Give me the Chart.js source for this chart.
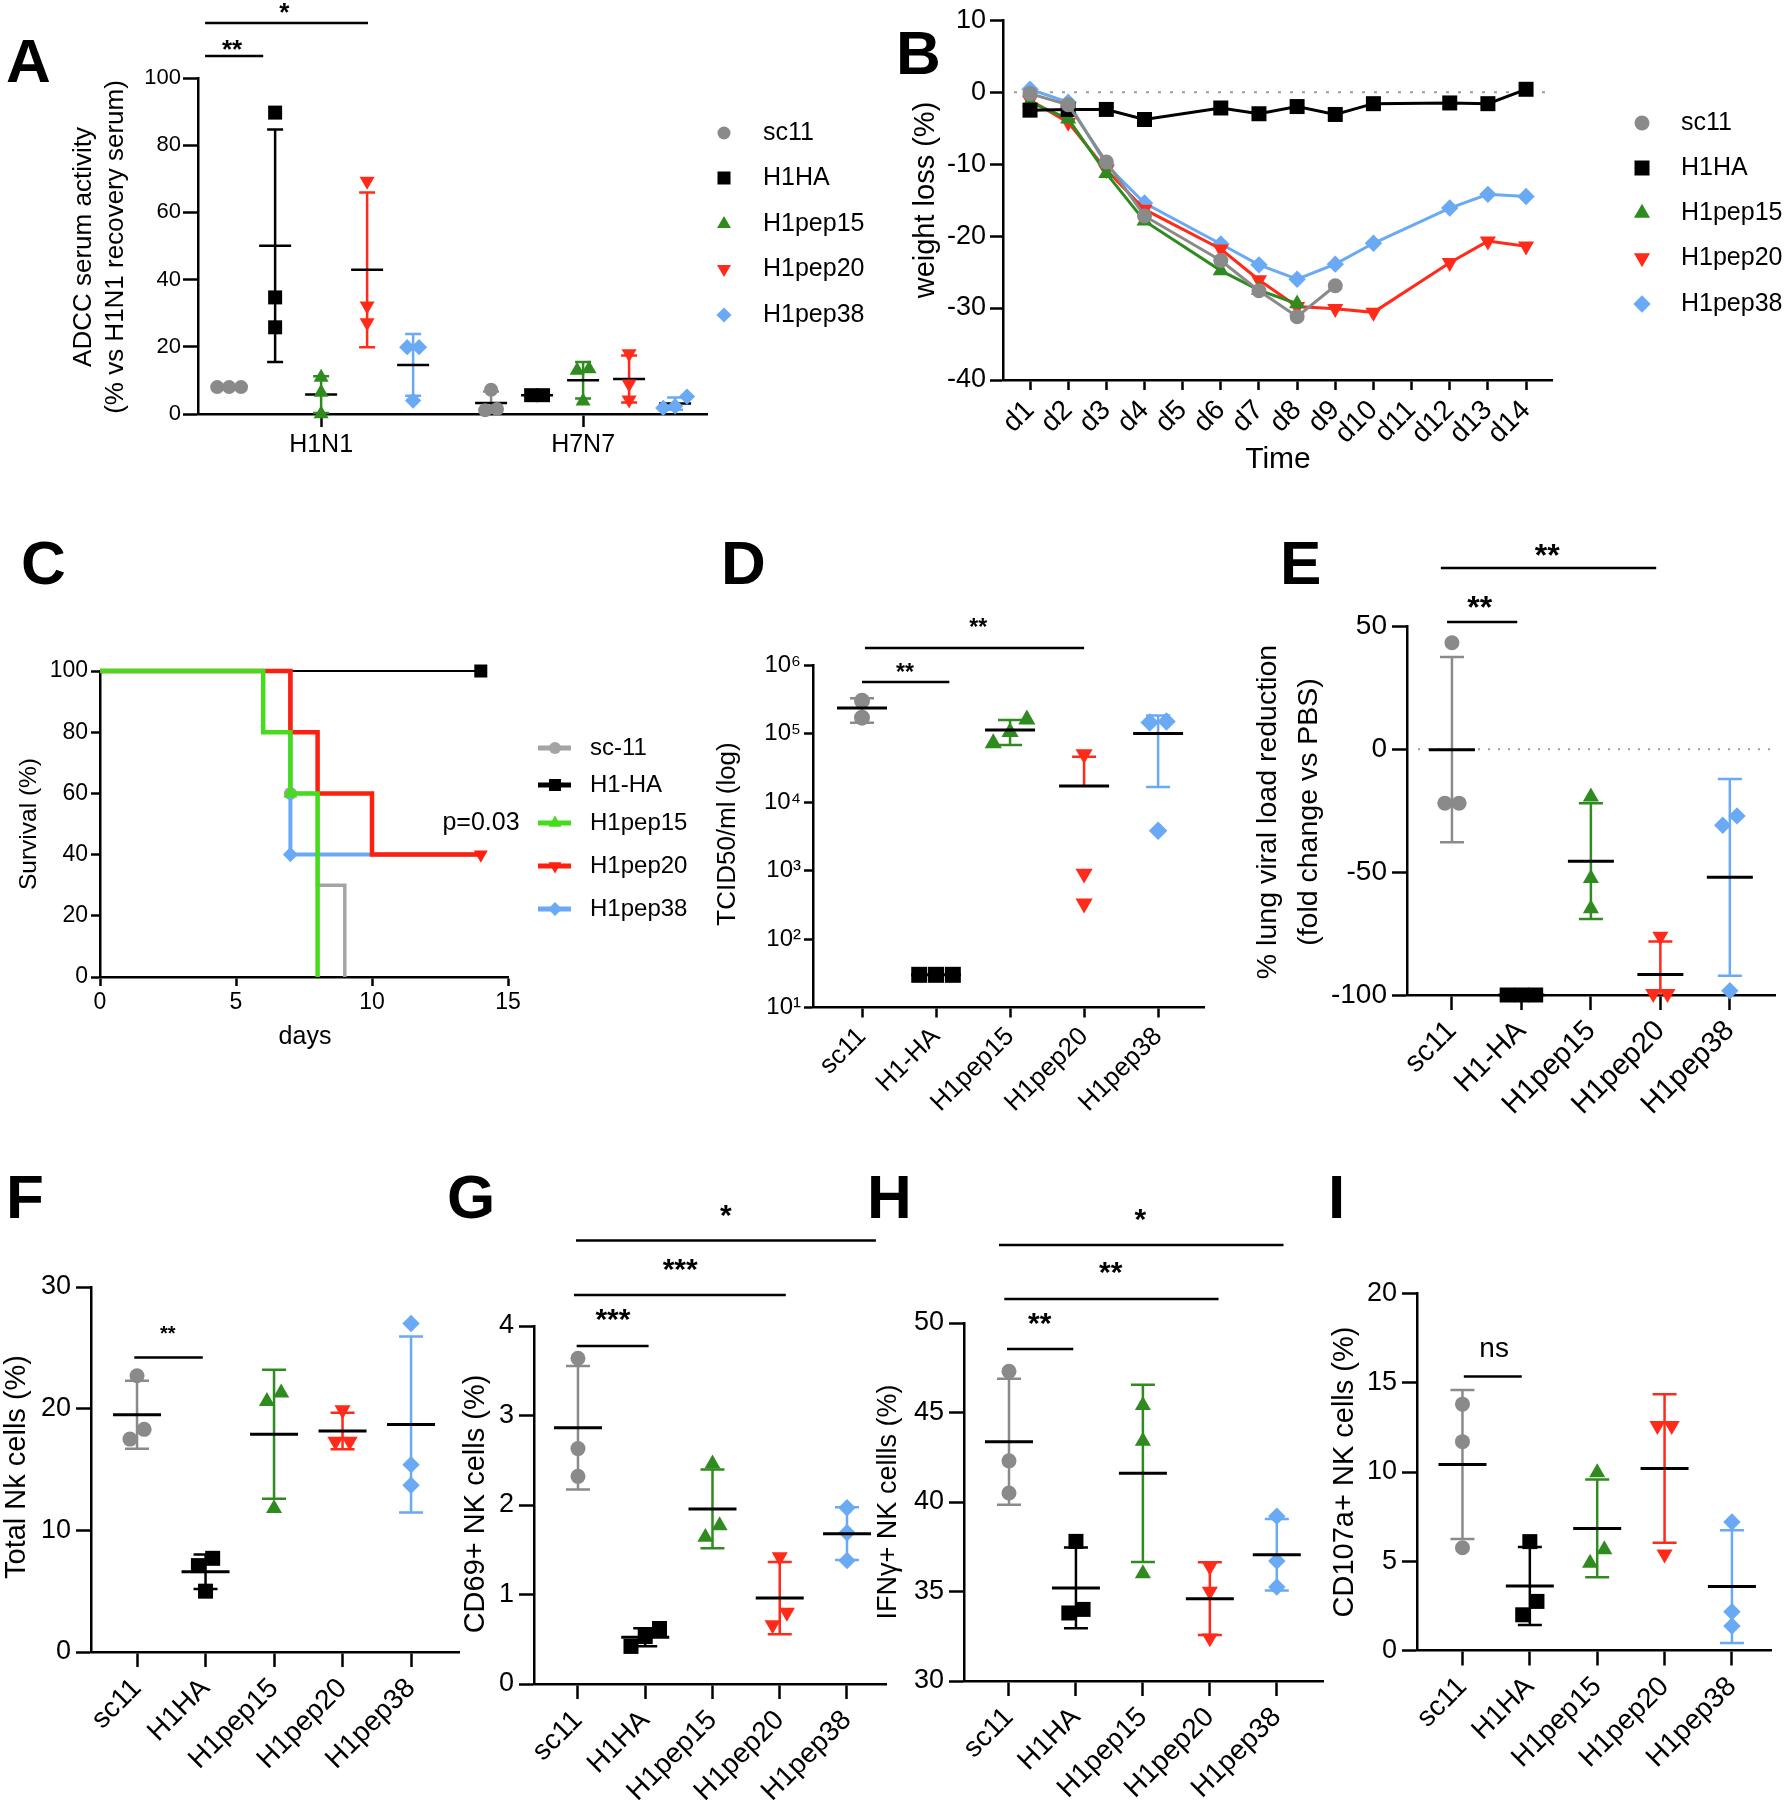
<!DOCTYPE html>
<html>
<head>
<meta charset="utf-8">
<title>Figure</title>
<script src="https://cdn.jsdelivr.net/npm/chart.js@4.4.1/dist/chart.umd.min.js"></script>
<style>
html,body{margin:0;padding:0;background:#ffffff;}
#page{position:relative;width:1786px;height:1800px;overflow:hidden;background:#ffffff;}
#page canvas{position:absolute;}
</style>
</head>
<body>
<div id="page"></div>
<script>
// ======================= DATA =======================
const groupNames     = ['sc11', 'H1HA', 'H1pep15', 'H1pep20', 'H1pep38'];
const groupNamesDash = ['sc11', 'H1-HA', 'H1pep15', 'H1pep20', 'H1pep38'];
const survivalNames  = ['sc-11', 'H1-HA', 'H1pep15', 'H1pep20', 'H1pep38'];

// A: ADCC serum activity; each series: [H1N1 values], [H7N7 values]
const aViruses = ['H1N1', 'H7N7'];
const aYTicks  = [0, 20, 40, 60, 80, 100];
const aSc11    = [[8, 8, 8], [7.2, 1.1, 1.5]];
const aH1HA    = [[89.7, 34.7, 25.8], [5.6, 5.6]];
const aH1pep15 = [[10.9, 6.4, 0], [13.4, 13.0, 3.8]];
const aH1pep20 = [[69.3, 32.2, 27.2], [18.0, 9.0, 4.2]];
const aH1pep38 = [[19.9, 19.9, 4.0], [5.2, 1.8, 2.3]];

// B: weight loss (%) per day (null = no value)
const bDays    = ['d1','d2','d3','d4','d5','d6','d7','d8','d9','d10','d11','d12','d13','d14'];
const bYTicks  = [-40, -30, -20, -10, 0, 10];
const bSc11    = [-0.2, -1.75, -9.7, -17.2, null, -23.4, -27.6, -31.2, -26.9, null, null, null, null, null];
const bH1HA    = [-2.5, -2.4, -2.4, -3.8, null, -2.2, -3.0, -2.0, -3.1, -1.6, null, -1.5, -1.6, 0.4];
const bH1pep15 = [-1.4, -3.7, -11.3, -17.9, null, -24.8, -27.5, -29.4, null, null, null, null, null, null];
const bH1pep20 = [-1.1, -4.2, -10.8, -16.3, null, -21.8, -26.1, -29.8, -30.1, -30.6, null, -23.7, -20.7, -21.4];
const bH1pep38 = [0.4, -1.4, -10.1, -15.4, null, -21.1, -24.0, -26.0, -23.9, -21.0, null, -16.1, -14.2, -14.5];

// C: survival (%) – event days and survival after the event; marker days
const cXTicks = [0, 5, 10, 15];
const cYTicks = [0, 20, 40, 60, 80, 100];
const cSc11Days  = [0, 7, 8, 9];        const cSc11Surv  = [100, 60, 30, 0];      const cSc11Marks  = [7];
const cH1HADays  = [0, 14];             const cH1HASurv  = [100, 100];            const cH1HAMarks  = [14];
const cPep15Days = [0, 6, 7, 8];        const cPep15Surv = [100, 80, 60, 0];      const cPep15Marks = [7];
const cPep20Days = [0, 7, 8, 10, 14];   const cPep20Surv = [100, 80, 60, 40, 40]; const cPep20Marks = [14];
const cPep38Days = [0, 7, 14];          const cPep38Surv = [100, 40, 40];         const cPep38Marks = [7];

// D: TCID50/ml
const dYTicks  = [1e1, 1e2, 1e3, 1e4, 1e5, 1e6];
const dYLabels = ['10\u00B9', '10\u00B2', '10\u00B3', '10\u2074', '10\u2075', '10\u2076'];
const dSc11    = [3.0e5, 1.7e5];
const dH1HA    = [30, 30, 30];
const dH1pep15 = [1.6e5, 0.72e5, 1.05e5];
const dH1pep20 = [5.0e4, 9.0e2, 3.3e2];
const dH1pep38 = [1.45e5, 1.5e5, 3.8e3];

// E: % lung viral load reduction
const eYTicks  = [-100, -50, 0, 50];
const eSc11    = [43.4, -21.9, -21.9];
const eH1HA    = [-100, -100, -100];
const eH1pep15 = [-19.3, -52.5, -64.8];
const eH1pep20 = [-76.1, -99.5, -99.5];
const eH1pep38 = [-30.9, -27.1, -98.3];

// F: Total NK cells (%)
const fYTicks  = [0, 10, 20, 30];
const fSc11    = [22.7, 18.3, 17.5];
const fH1HA    = [7.7, 7.1, 5.0];
const fH1pep15 = [21.3, 20.6, 11.8];
const fH1pep20 = [19.9, 17.3, 17.3];
const fH1pep38 = [27.0, 15.4, 13.7];

// G: CD69+ NK cells (%)
const gYTicks  = [0, 1, 2, 3, 4];
const gSc11    = [3.64, 2.63, 2.32];
const gH1HA    = [0.62, 0.53, 0.42];
const gH1pep15 = [2.46, 1.77, 1.64];
const gH1pep20 = [1.42, 0.80, 0.66];
const gH1pep38 = [1.97, 1.69, 1.38];

// H: IFNg+ NK cells (%)
const hYTicks  = [30, 35, 40, 45, 50];
const hSc11    = [47.3, 42.3, 40.5];
const hH1HA    = [37.8, 34.0, 33.8];
const hH1pep15 = [45.4, 43.4, 36.0];
const hH1pep20 = [36.4, 35.0, 32.4];
const hH1pep38 = [39.2, 36.7, 35.25];

// I: CD107a+ NK cells (%)
const iYTicks  = [0, 5, 10, 15, 20];
const iSc11    = [13.8, 11.7, 5.76];
const iH1HA    = [6.1, 2.75, 2.0];
const iH1pep15 = [9.97, 5.65, 4.9];
const iH1pep20 = [12.6, 12.6, 5.4];
const iH1pep38 = [7.2, 2.17, 1.37];

// ======================= STYLE / HELPERS =======================
const FONT = "'Liberation Sans', Arial, Helvetica, sans-serif";
Chart.defaults.font.family = FONT;
Chart.defaults.color = '#000';
const COLORS   = ['#8a8a8a', '#000000', '#2f8b1f', '#ff2a1a', '#6aa9f4'];
const C_COLORS = ['#a4a4a4', '#000000', '#45dc1c', '#ff1f0f', '#6aa9f7'];
const STYLES   = [['circle', 0], ['rect', 0], ['triangle', 0], ['triangle', 180], ['rectRot', 0]];

function radiusFor(style, size) {
  if (style === 'circle') return size / 2;
  if (style === 'rect') return size / Math.SQRT2;
  if (style === 'triangle') return size * 0.62;
  return size * 0.58;
}
function drawMarker(ctx, style, rot, x, y, size, color) {
  const r = radiusFor(style, size);
  ctx.save();
  ctx.fillStyle = color;
  ctx.translate(x, y);
  ctx.rotate(rot * Math.PI / 180);
  ctx.beginPath();
  if (style === 'circle') ctx.arc(0, 0, r, 0, Math.PI * 2);
  else if (style === 'rect') { const h = r * Math.SQRT1_2; ctx.rect(-h, -h, 2 * h, 2 * h); }
  else if (style === 'triangle') {
    for (let k = 0; k < 3; k++) { const a = k * 2 * Math.PI / 3; const px = Math.sin(a) * r, py = -Math.cos(a) * r; if (k) ctx.lineTo(px, py); else ctx.moveTo(px, py); }
  } else { ctx.moveTo(0, -r); ctx.lineTo(r, 0); ctx.lineTo(0, r); ctx.lineTo(-r, 0); }
  ctx.closePath();
  ctx.fill();
  ctx.restore();
}
function stats(v) {
  const n = v.length, m = v.reduce((a, b) => a + b, 0) / n;
  const sd = n > 1 ? Math.sqrt(v.reduce((a, b) => a + (b - m) * (b - m), 0) / (n - 1)) : 0;
  return { m, sd };
}
function jitter(px, thresh, step) {
  const idx = px.map((_, i) => i).sort((a, b) => px[a] - px[b]);
  const off = px.map(() => 0);
  let cl = [];
  const flush = () => { const k = cl.length; cl.forEach((id, j) => { off[id] = (j - (k - 1) / 2) * step; }); };
  idx.forEach((id, n) => {
    if (n > 0 && Math.abs(px[id] - px[idx[n - 1]]) >= thresh) { flush(); cl = []; }
    cl.push(id);
  });
  flush();
  return off;
}
function makeCanvas(rect) {
  const c = document.createElement('canvas');
  c.width = rect[2]; c.height = rect[3];
  c.style.left = rect[0] + 'px'; c.style.top = rect[1] + 'px';
  c.style.width = rect[2] + 'px'; c.style.height = rect[3] + 'px';
  document.getElementById('page').appendChild(c);
  return c;
}
function layoutFor(rect, area) {
  const [cx, cy, cw, ch] = rect, [l, t, r, b] = area;
  return { padding: { left: 0, top: t - cy, right: cx + cw - r, bottom: 0 }, yW: l - cx, xH: cy + ch - b };
}
function gridOpts(len) {
  return { display: true, drawOnChartArea: false, drawTicks: true, tickLength: len, tickWidth: 2.5, tickColor: '#000' };
}
function yScale(P, L) {
  return {
    type: P.yType || 'linear', min: P.yMin, max: P.yMax,
    afterBuildTicks: s => { s.ticks = P.yTicks.map(v => ({ value: v })); },
    afterFit: s => { s.width = L.yW; },
    ticks: { callback: (v, i) => P.yLabels[i], font: { family: FONT, size: P.yFont }, color: '#000', padding: P.yPad, autoSkip: false },
    grid: gridOpts(P.yTick),
    border: { display: true, color: '#000', width: 2.5 }
  };
}
function xScale(P, L) {
  return {
    type: 'linear', min: P.xMin, max: P.xMax,
    afterBuildTicks: s => { s.ticks = P.xTicks.map(v => ({ value: v })); },
    afterFit: s => { s.height = L.xH; },
    ticks: { callback: (v, i) => P.xLabels[i], font: { family: FONT, size: P.xFont }, color: '#000', padding: P.xPad, autoSkip: false, minRotation: P.xRot, maxRotation: P.xRot },
    grid: gridOpts(P.xTick),
    border: { display: true, color: '#000', width: 2.5 }
  };
}
function drawText(ctx, t, ox, oy) {
  ctx.save();
  ctx.font = (t.weight || 'normal') + ' ' + t.size + 'px ' + FONT;
  ctx.fillStyle = '#000';
  ctx.textAlign = t.align || 'center';
  ctx.textBaseline = t.base || 'middle';
  ctx.translate(t.x - ox, t.y - oy);
  if (t.rot) ctx.rotate(t.rot * Math.PI / 180);
  ctx.fillText(t.text, 0, 0);
  ctx.restore();
}
function decor(P) {
  const ox = P.rect[0], oy = P.rect[1];
  function drawMeans(chart) {
    if (!P.errorBars) return;
    const ctx = chart.ctx, xs = chart.scales.x, ys = chart.scales.y;
    ctx.save();
    ctx.strokeStyle = '#000'; ctx.lineWidth = P.meanW || 3;
    P.series.forEach(s => s.groups.forEach(g => {
      const st = stats(g.values), xp = xs.getPixelForValue(g.x), ym = ys.getPixelForValue(st.m);
      ctx.beginPath(); ctx.moveTo(xp - P.meanHalf, ym); ctx.lineTo(xp + P.meanHalf, ym); ctx.stroke();
    }));
    ctx.restore();
  }
  return {
    id: 'decor',
    beforeDatasetsDraw(chart) {
      const ctx = chart.ctx, xs = chart.scales.x, ys = chart.scales.y, ca = chart.chartArea;
      ctx.save();
      (P.dotted || []).forEach(d => {
        ctx.strokeStyle = d.color; ctx.lineWidth = d.w; ctx.setLineDash(d.dash);
        const yp = ys.getPixelForValue(d.y);
        ctx.beginPath(); ctx.moveTo(d.x0 - ox, yp); ctx.lineTo(d.x1 - ox, yp); ctx.stroke();
      });
      ctx.setLineDash([]);
      if (P.errorBars) {
        ctx.beginPath();
        ctx.rect(0, 0, chart.width, ca.bottom);
        ctx.clip();
        P.series.forEach(s => s.groups.forEach(g => {
          const st = stats(g.values);
          if (st.sd <= 0) return;
          const xp = xs.getPixelForValue(g.x), ym = ys.getPixelForValue(st.m);
          const yu = ys.getPixelForValue(st.m + st.sd);
          const hasLow = !(P.yType === 'logarithmic' && st.m - st.sd <= 0);
          const yl = hasLow ? ys.getPixelForValue(st.m - st.sd) : ym;
          ctx.strokeStyle = s.color; ctx.lineWidth = P.errW || 2.5;
          ctx.beginPath();
          ctx.moveTo(xp, yu); ctx.lineTo(xp, yl);
          ctx.moveTo(xp - P.capHalf, yu); ctx.lineTo(xp + P.capHalf, yu);
          if (hasLow) { ctx.moveTo(xp - P.capHalf, yl); ctx.lineTo(xp + P.capHalf, yl); }
          ctx.stroke();
        }));
      }
      ctx.restore();
      if (!P.meanOnTop) drawMeans(chart);
    },
    afterDatasetsDraw(chart) { if (P.meanOnTop) drawMeans(chart); },
    afterDraw(chart) {
      const ctx = chart.ctx, xs = chart.scales.x;
      ctx.save();
      (P.sigs || []).forEach(sg => {
        const x0 = xs.getPixelForValue(sg.x0), x1 = xs.getPixelForValue(sg.x1), y = sg.y - oy;
        ctx.strokeStyle = '#000'; ctx.lineWidth = 2.5;
        ctx.beginPath(); ctx.moveTo(x0, y); ctx.lineTo(x1, y); ctx.stroke();
        ctx.font = (sg.weight || 'bold') + ' ' + sg.size + 'px ' + FONT;
        ctx.fillStyle = '#000'; ctx.textAlign = 'center'; ctx.textBaseline = 'alphabetic';
        const k = sg.label === 'ns' ? 0.26 : 0.57;
        ctx.fillText(sg.label, xs.getPixelForValue(sg.lx), sg.ly - oy + k * sg.size);
      });
      if (P.legend) {
        const Lg = P.legend;
        Lg.items.forEach((it, i) => {
          const y = Lg.ys[i] - oy;
          if (Lg.line) {
            ctx.strokeStyle = it.color; ctx.lineWidth = Lg.line;
            ctx.beginPath(); ctx.moveTo(Lg.lx0 - ox, y); ctx.lineTo(Lg.lx1 - ox, y); ctx.stroke();
          }
          drawMarker(ctx, it.style, it.rot, Lg.mx - ox, y, Lg.msize, it.color);
          ctx.font = Lg.size + 'px ' + FONT; ctx.fillStyle = '#000';
          ctx.textAlign = 'left'; ctx.textBaseline = 'middle';
          ctx.fillText(it.name, Lg.tx - ox, y);
        });
      }
      ctx.restore();
      (P.texts || []).forEach(t => drawText(ctx, t, ox, oy));
    }
  };
}
function baseOptions(P, L) {
  return {
    responsive: false, animation: false, events: [],
    layout: { padding: L.padding },
    plugins: { legend: { display: false }, tooltip: { enabled: false } },
    scales: { x: xScale(P, L), y: yScale(P, L) }
  };
}
function dotPanel(P) {
  const cv = makeCanvas(P.rect);
  const L = layoutFor(P.rect, P.area);
  const [l, t, r, b] = P.area;
  const isLog = P.yType === 'logarithmic';
  const f = v => isLog ? Math.log10(v) : v;
  const pxPerY = (b - t) / (f(P.yMax) - f(P.yMin));
  const pxPerX = (r - l) / (P.xMax - P.xMin);
  P.errorBars = true;
  const datasets = P.series.map(s => {
    const pts = [];
    s.groups.forEach(g => {
      const off = jitter(g.values.map(v => f(v) * pxPerY), P.size * 0.95, P.size * P.spread / pxPerX);
      g.values.forEach((v, i) => pts.push({ x: g.x + off[i], y: v }));
    });
    const rad = radiusFor(s.style, P.size);
    return {
      label: s.name, data: pts, showLine: false, clip: false,
      pointStyle: s.style, pointRotation: s.rot, pointRadius: rad, pointHoverRadius: rad,
      pointBackgroundColor: s.color, pointBorderColor: s.color, pointBorderWidth: 0, pointHoverBorderWidth: 0
    };
  });
  new Chart(cv, { type: 'scatter', data: { datasets }, options: baseOptions(P, L), plugins: [decor(P)] });
}
function singleSeries(lists, names) {
  return lists.map((vals, k) => ({ name: names[k], color: COLORS[k], style: STYLES[k][0], rot: STYLES[k][1], groups: [{ x: k, values: vals }] }));
}
function legendItems(names, colors) {
  return names.map((n, k) => ({ name: n, color: colors[k], style: STYLES[k][0], rot: STYLES[k][1] }));
}
function ticksAsText(arr) { return arr.map(v => String(v)); }

// ======================= PANEL A =======================
const aSeriesData = [aSc11, aH1HA, aH1pep15, aH1pep20, aH1pep38];
const A_GROUP_STEP = 0.1756;
dotPanel({
  rect: [0, 0, 900, 480], area: [198, 78, 707, 414],
  xMin: -0.47, xMax: 1.473, yMin: 0, yMax: 100, yTicks: aYTicks, yLabels: ticksAsText(aYTicks),
  xTicks: [0, 1], xLabels: aViruses, xRot: 0, xFont: 25, yFont: 22, yTick: 15, xTick: 13, yPad: 2, xPad: 3,
  size: 14, spread: 0.85, meanHalf: 16, capHalf: 8, meanOnTop: false, meanW: 2.5,
  series: aSeriesData.map((d, k) => ({ name: groupNames[k], color: COLORS[k], style: STYLES[k][0], rot: STYLES[k][1],
    groups: aViruses.map((v, ci) => ({ x: ci + (k - 2) * A_GROUP_STEP, values: d[ci] })) })),
  legend: { items: legendItems(groupNames, COLORS), mx: 724, tx: 763, ys: [133, 178, 224, 269, 315], size: 25, msize: 13 },
  sigs: [
    { x0: -0.443, x1: -0.221, y: 56, label: '**', lx: -0.34, ly: 43, size: 26 },
    { x0: -0.443, x1: 0.179, y: 23, label: '*', lx: -0.141, ly: 6, size: 26 }
  ],
  texts: [
    { text: 'A', x: 6, y: 82, size: 62, weight: 'bold', align: 'left', base: 'alphabetic' },
    { text: 'ADCC serum activity', x: 84, y: 247, size: 26, rot: -90 },
    { text: '(% vs H1N1 recovery serum)', x: 116, y: 247, size: 26, rot: -90 }
  ]
});

// ======================= PANEL B =======================
(function () {
  const P = {
    rect: [880, 0, 906, 480], area: [1003, 17, 1552, 380],
    xMin: -0.708, xMax: 13.68, yMin: -40, yMax: 10, yTicks: bYTicks, yLabels: ticksAsText(bYTicks),
    xTicks: bDays.map((d, i) => i), xLabels: bDays, xRot: 45, xFont: 28, yFont: 27, yTick: 13, xTick: 10, yPad: 4, xPad: 4,
    dotted: [{ y: 0, x0: 1014, x1: 1554, color: '#9a9a9a', w: 2, dash: [3, 9] }],
    legend: { items: legendItems(groupNames, COLORS), mx: 1642, tx: 1681, ys: [123, 168, 213, 258, 304], size: 25, msize: 15 },
    texts: [
      { text: 'B', x: 896, y: 74, size: 62, weight: 'bold', align: 'left', base: 'alphabetic' },
      { text: 'weight loss (%)', x: 926, y: 200, size: 29, rot: -90 },
      { text: 'Time', x: 1278, y: 460, size: 30 }
    ]
  };
  const L = layoutFor(P.rect, P.area);
  const lists = [bSc11, bH1HA, bH1pep15, bH1pep20, bH1pep38];
  const datasets = lists.map((vals, k) => {
    const st = STYLES[k][0], rad = radiusFor(st, 15);
    return {
      label: groupNames[k],
      data: vals.map((v, i) => v === null ? null : { x: i, y: v }).filter(p => p !== null),
      borderColor: COLORS[k], borderWidth: 3, fill: false, tension: 0, clip: false,
      pointStyle: st, pointRotation: STYLES[k][1], pointRadius: rad, pointHoverRadius: rad,
      pointBackgroundColor: COLORS[k], pointBorderColor: COLORS[k], pointBorderWidth: 0
    };
  });
  new Chart(makeCanvas(P.rect), { type: 'line', data: { datasets }, options: baseOptions(P, L), plugins: [decor(P)] });
})();

// ======================= PANEL C =======================
(function () {
  const P = {
    rect: [0, 520, 720, 540], area: [100, 671, 508, 977],
    xMin: 0, xMax: 15, yMin: 0, yMax: 100, yTicks: cYTicks, yLabels: ticksAsText(cYTicks),
    xTicks: cXTicks, xLabels: ticksAsText(cXTicks), xRot: 0, xFont: 23, yFont: 23, yTick: 9, xTick: 9, yPad: 3, xPad: 3,
    legend: { items: legendItems(survivalNames, C_COLORS), line: 5, lx0: 538, lx1: 571, mx: 555, tx: 590, ys: [748, 785, 823, 866, 909], size: 24, msize: 12 },
    texts: [
      { text: 'C', x: 21, y: 584, size: 62, weight: 'bold', align: 'left', base: 'alphabetic' },
      { text: 'Survival (%)', x: 29, y: 824, size: 24.5, rot: -90 },
      { text: 'days', x: 305, y: 1037, size: 25 },
      { text: 'p=0.03', x: 481, y: 823, size: 25 }
    ]
  };
  const L = layoutFor(P.rect, P.area);
  const days  = [cSc11Days, cH1HADays, cPep15Days, cPep20Days, cPep38Days];
  const surv  = [cSc11Surv, cH1HASurv, cPep15Surv, cPep20Surv, cPep38Surv];
  const marks = [cSc11Marks, cH1HAMarks, cPep15Marks, cPep20Marks, cPep38Marks];
  const widths = [3.5, 2, 4.5, 4.5, 4];
  const orders = [4, 5, 1, 2, 3];
  const datasets = days.map((dd, k) => {
    const st = STYLES[k][0], rad = radiusFor(st, 13);
    return {
      label: survivalNames[k], order: orders[k],
      data: dd.map((d, i) => ({ x: d, y: surv[k][i] })),
      stepped: true, borderColor: C_COLORS[k], borderWidth: widths[k], fill: false, clip: false,
      pointStyle: st, pointRotation: STYLES[k][1],
      pointRadius: ctx => (ctx.raw && marks[k].includes(ctx.raw.x)) ? rad : 0,
      pointHoverRadius: ctx => (ctx.raw && marks[k].includes(ctx.raw.x)) ? rad : 0,
      pointBackgroundColor: C_COLORS[k], pointBorderColor: C_COLORS[k], pointBorderWidth: 0
    };
  });
  new Chart(makeCanvas(P.rect), { type: 'line', data: { datasets }, options: baseOptions(P, L), plugins: [decor(P)] });
})();

// ======================= PANEL D =======================
dotPanel({
  rect: [700, 520, 520, 640], area: [813, 665, 1204, 1007.5],
  xMin: -0.662, xMax: 4.62, yType: 'logarithmic', yMin: 10, yMax: 1e6, yTicks: dYTicks, yLabels: dYLabels,
  xTicks: [0, 1, 2, 3, 4], xLabels: groupNamesDash, xRot: 45, xFont: 26, yFont: 24, yTick: 9, xTick: 10, yPad: 3, xPad: 4,
  size: 16, spread: 1.05, meanHalf: 25, capHalf: 12, meanOnTop: true,
  series: singleSeries([dSc11, dH1HA, dH1pep15, dH1pep20, dH1pep38], groupNamesDash),
  sigs: [
    { x0: 0, x1: 1.18, y: 682, label: '**', lx: 0.58, ly: 667, size: 23 },
    { x0: 0.04, x1: 3.0, y: 648, label: '**', lx: 1.57, ly: 622, size: 23 }
  ],
  texts: [
    { text: 'D', x: 721, y: 584, size: 62, weight: 'bold', align: 'left', base: 'alphabetic' },
    { text: 'TCID50/ml (log)', x: 728, y: 834, size: 26, rot: -90 }
  ]
});

// ======================= PANEL E =======================
dotPanel({
  rect: [1230, 520, 556, 640], area: [1407, 626.5, 1775, 995],
  xMin: -0.647, xMax: 4.65, yMin: -100, yMax: 50, yTicks: eYTicks, yLabels: ticksAsText(eYTicks),
  xTicks: [0, 1, 2, 3, 4], xLabels: groupNamesDash, xRot: 45, xFont: 29, yFont: 28, yTick: 15, xTick: 15, yPad: 5, xPad: 4,
  size: 15, spread: 0.95, meanHalf: 23, capHalf: 12, meanOnTop: true,
  series: singleSeries([eSc11, eH1HA, eH1pep15, eH1pep20, eH1pep38], groupNamesDash),
  dotted: [{ y: 0, x0: 1418, x1: 1778, color: '#9a9a9a', w: 2, dash: [2, 8] }],
  sigs: [
    { x0: -0.07, x1: 0.94, y: 622, label: '**', lx: 0.40, ly: 600, size: 32 },
    { x0: -0.16, x1: 2.94, y: 568, label: '**', lx: 1.37, ly: 548, size: 32 }
  ],
  texts: [
    { text: 'E', x: 1280, y: 584, size: 62, weight: 'bold', align: 'left', base: 'alphabetic' },
    { text: '% lung viral load reduction', x: 1268, y: 812, size: 28.5, rot: -90 },
    { text: '(fold change vs PBS)', x: 1309, y: 812, size: 28.5, rot: -90 }
  ]
});

// ======================= PANELS F–I =======================
const nkCommon = { xTicks: [0, 1, 2, 3, 4], xLabels: groupNames, xRot: 45, xFont: 28, yFont: 27, yTick: 15, xTick: 15, yPad: 5, xPad: 5,
  size: 15, spread: 0.95, meanHalf: 24, capHalf: 12, meanOnTop: true };

dotPanel(Object.assign({}, nkCommon, {
  rect: [0, 1170, 470, 630], area: [91, 1287, 459, 1652],
  xMin: -0.672, xMax: 4.70, yMin: 0, yMax: 30, yTicks: fYTicks, yLabels: ticksAsText(fYTicks),
  series: singleSeries([fSc11, fH1HA, fH1pep15, fH1pep20, fH1pep38], groupNames),
  sigs: [{ x0: -0.04, x1: 0.96, y: 1357.5, label: '**', lx: 0.45, ly: 1329, size: 20 }],
  texts: [
    { text: 'F', x: 6, y: 1218, size: 62, weight: 'bold', align: 'left', base: 'alphabetic' },
    { text: 'Total Nk cells (%)', x: 17, y: 1467, size: 29, rot: -90 }
  ]
}));

dotPanel(Object.assign({}, nkCommon, {
  rect: [430, 1170, 470, 630], area: [534, 1326, 886, 1684],
  xMin: -0.654, xMax: 4.58, yMin: 0, yMax: 4, yTicks: gYTicks, yLabels: ticksAsText(gYTicks),
  series: singleSeries([gSc11, gH1HA, gH1pep15, gH1pep20, gH1pep38], groupNames),
  sigs: [
    { x0: -0.02, x1: 1.05, y: 1346, label: '***', lx: 0.52, ly: 1312, size: 30 },
    { x0: -0.06, x1: 3.09, y: 1295, label: '***', lx: 1.52, ly: 1262, size: 30 },
    { x0: -0.03, x1: 4.43, y: 1240.5, label: '*', lx: 2.2, ly: 1208, size: 30 }
  ],
  texts: [
    { text: 'G', x: 447, y: 1218, size: 62, weight: 'bold', align: 'left', base: 'alphabetic' },
    { text: 'CD69+ NK cells (%)', x: 476, y: 1504, size: 29, rot: -90 }
  ]
}));

dotPanel(Object.assign({}, nkCommon, {
  rect: [860, 1170, 480, 630], area: [964, 1323, 1323, 1681],
  xMin: -0.672, xMax: 4.69, yMin: 30, yMax: 50, yTicks: hYTicks, yLabels: ticksAsText(hYTicks),
  series: singleSeries([hSc11, hH1HA, hH1pep15, hH1pep20, hH1pep38], groupNames),
  sigs: [
    { x0: -0.03, x1: 0.96, y: 1349, label: '**', lx: 0.46, ly: 1316, size: 30 },
    { x0: -0.07, x1: 3.13, y: 1299, label: '**', lx: 1.52, ly: 1265, size: 30 },
    { x0: -0.15, x1: 4.10, y: 1245, label: '*', lx: 1.96, ly: 1212, size: 30 }
  ],
  texts: [
    { text: 'H', x: 867, y: 1218, size: 62, weight: 'bold', align: 'left', base: 'alphabetic' },
    { text: 'IFN\u03B3+ NK cellls (%)', x: 889, y: 1502, size: 27, rot: -90 }
  ]
}));

dotPanel(Object.assign({}, nkCommon, {
  rect: [1310, 1170, 476, 630], area: [1417, 1293.5, 1771, 1650.5],
  xMin: -0.675, xMax: 4.58, yMin: 0, yMax: 20, yTicks: iYTicks, yLabels: ticksAsText(iYTicks),
  series: singleSeries([iSc11, iH1HA, iH1pep15, iH1pep20, iH1pep38], groupNames),
  sigs: [{ x0: 0.02, x1: 0.88, y: 1376.5, label: 'ns', lx: 0.47, ly: 1350, size: 28, weight: 'normal' }],
  texts: [
    { text: 'I', x: 1328, y: 1218, size: 62, weight: 'bold', align: 'left', base: 'alphabetic' },
    { text: 'CD107a+ NK cells (%)', x: 1345, y: 1472, size: 29, rot: -90 }
  ]
}));
</script>
</body>
</html>
